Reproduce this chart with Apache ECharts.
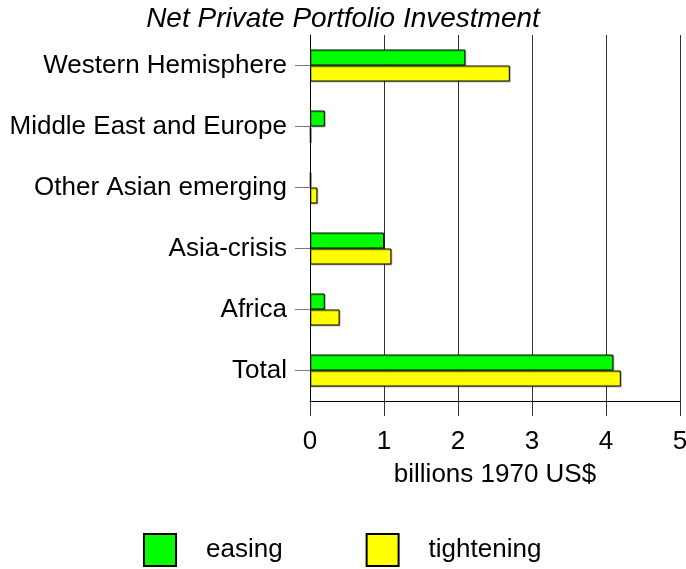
<!DOCTYPE html>
<html>
<head>
<meta charset="utf-8">
<script src="https://cdn.jsdelivr.net/npm/echarts@6/dist/echarts.min.js"></script>
<style>
  html, body { margin: 0; padding: 0; background: #fff; }
  #chart { width: 686px; height: 569px; }
</style>
</head>
<body>
<div id="chart"></div>
<script>
// regions, top to bottom
const regions = ['Western Hemisphere', 'Middle East and Europe', 'Other Asian emerging', 'Asia-crisis', 'Africa', 'Total']
// billions 1970 US$
const easing = [2.1, 0.2, 0.01, 1.0, 0.2, 4.1]
const tightening = [2.7, 0.01, 0.1, 1.1, 0.4, 4.2]
const xTicks = [0, 5, 1] // min, max, interval

const font = 'Liberation Sans, Arial, sans-serif'
const chart = echarts.init(document.getElementById('chart'))

const barStyle = (color) => ({
  color: color,
  borderColor: '#000',
  borderWidth: 1,
  shadowColor: 'rgba(0,0,0,0.25)',
  shadowOffsetX: 1,
  shadowOffsetY: 1,
  shadowBlur: 0
})

chart.setOption({
  animation: false,
  title: {
    text: 'Net Private Portfolio Investment',
    left: 'center',
    top: 0,
    textStyle: { fontFamily: font, fontSize: 28, fontStyle: 'italic', fontWeight: 'normal', color: '#000' }
  },
  legend: {
    left: 143,
    top: 533,
    padding: 0,
    itemWidth: 32,
    itemHeight: 32,
    itemGap: 83,
    icon: 'rect',
    textStyle: { fontFamily: font, fontSize: 26, color: '#000', padding: [0, 0, 0, 25] },
    data: ['easing', 'tightening']
  },
  grid: { left: 310, right: 6, top: 35, bottom: 168, outerBoundsMode: 'none' },
  xAxis: {
    type: 'value',
    min: xTicks[0],
    max: xTicks[1],
    interval: xTicks[2],
    name: 'billions 1970 US$',
    nameLocation: 'middle',
    nameGap: 61,
    nameTextStyle: { fontFamily: font, fontSize: 26, color: '#000' },
    axisLine: { show: true, lineStyle: { color: '#000', width: 1 } },
    axisTick: { show: true, length: 15, lineStyle: { color: '#333' } },
    axisLabel: { margin: 28, fontFamily: font, fontSize: 26, color: '#000' },
    splitLine: { show: true, lineStyle: { color: '#333', width: 1 } }
  },
  yAxis: {
    type: 'category',
    inverse: true,
    data: regions,
    axisLine: { show: true, lineStyle: { color: '#000', width: 1 } },
    axisTick: { show: true, length: 15, alignWithLabel: true, lineStyle: { color: '#777' } },
    axisLabel: { margin: 23, fontFamily: font, fontSize: 26, color: '#000' }
  },
  series: [
    {
      name: 'easing',
      type: 'bar',
      data: easing,
      barWidth: 16,
      barGap: '0%',
      itemStyle: barStyle('#00ff00')
    },
    {
      name: 'tightening',
      type: 'bar',
      data: tightening,
      barWidth: 16,
      barGap: '0%',
      itemStyle: barStyle('#ffff00')
    }
  ]
})
</script>
</body>
</html>
